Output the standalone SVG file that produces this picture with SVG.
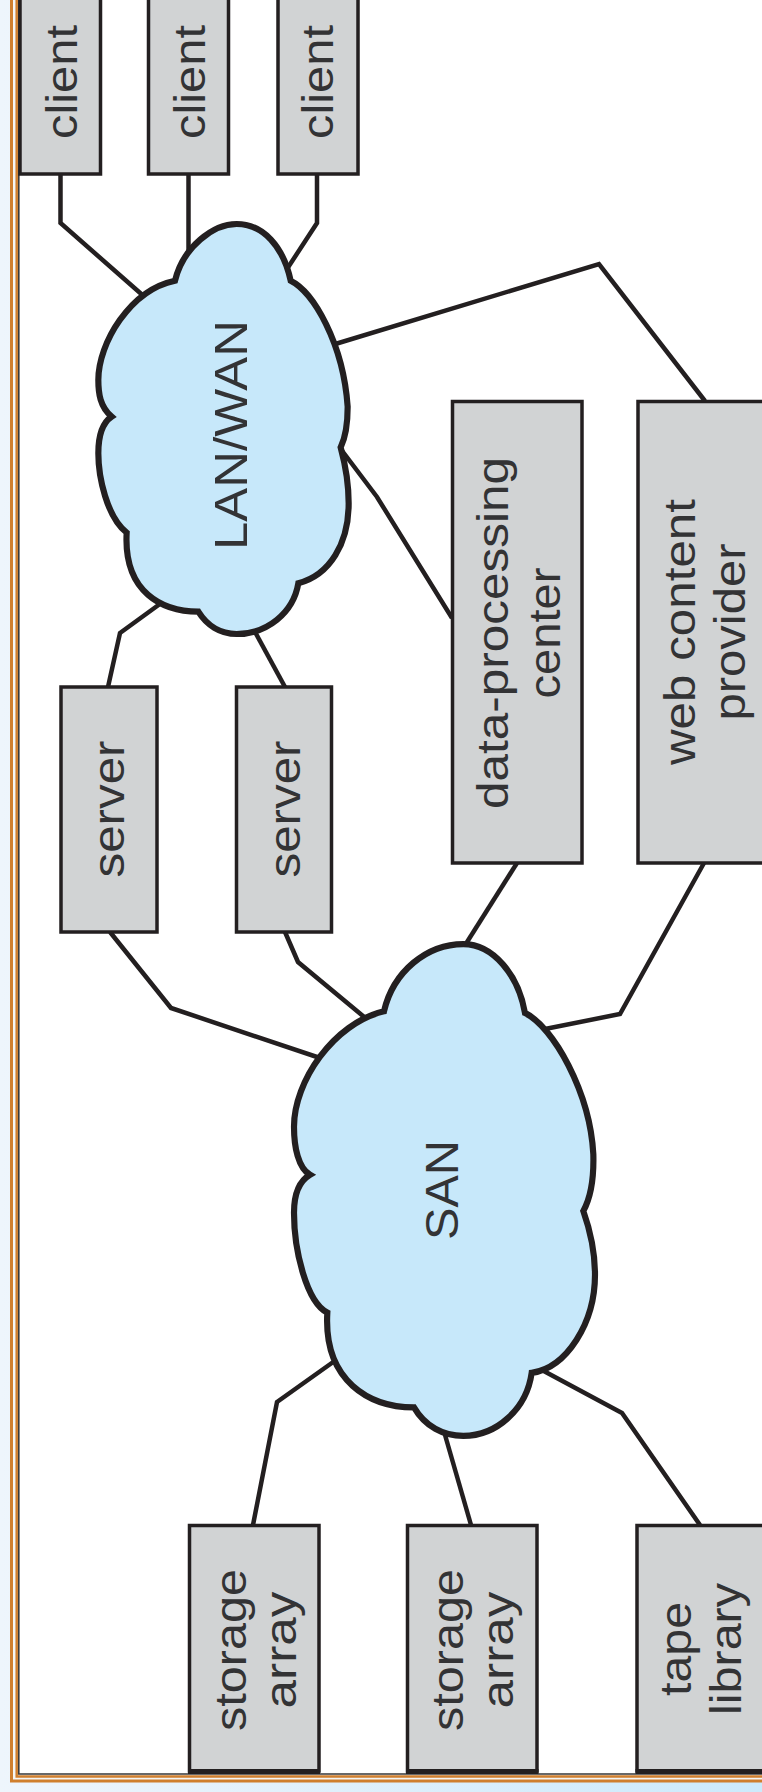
<svg xmlns="http://www.w3.org/2000/svg" width="762" height="1792" viewBox="0 0 762 1792">
<style>
.box{fill:#d1d3d4;stroke:#231f20;stroke-width:3.5}
.cloud{fill:#c7e8fa;stroke:#231f20;stroke-linejoin:miter;stroke-width:18.500}
.lbl{font-family:"Liberation Sans",Arial,sans-serif;font-size:44px;fill:#333335;text-anchor:middle}
.big{font-size:46px}
.edge{fill:none;stroke:#231f20;stroke-width:5}
#connectors polyline{fill:none;stroke:#231f20;stroke-width:4.5;stroke-linejoin:miter}
</style>
<defs><linearGradient id="bg" x1="0" y1="0" x2="1" y2="0"><stop offset="0" stop-color="#eef5fc"/><stop offset="1" stop-color="#cceafb"/></linearGradient></defs>
<rect id="background" width="762" height="1792" fill="url(#bg)"/>
<g id="frame">
<rect x="13" y="0" width="749" height="1780" fill="#f4f6f6"/>
<rect x="18" y="0" width="744" height="1773" fill="#fff"/>
<path d="M11.500 0V1781H762" fill="none" stroke="#cf7f2e" stroke-width="3"/>
<path d="M16.700 0V1776.500H762" fill="none" stroke="#cf7f2e" stroke-width="2.500"/>
<path d="M18.800 0V1774H762" fill="none" stroke="#3a3a3a" stroke-width="1.600"/>
</g>
<g id="connectors">
<polyline points="60.500,174 60.500,223 147,299"/>
<polyline points="188.500,174 188.500,250"/>
<polyline points="317,174 317,223 287,269"/>
<polyline points="332,345 599,264 705,401"/>
<polyline points="340,448 377,497 452,618"/>
<polyline points="108,687 120,633 164,601"/>
<polyline points="285,687 254,630"/>
<polyline points="110,932 171,1008 326,1060"/>
<polyline points="285,932 298,962 369,1021"/>
<polyline points="517,863 462,950"/>
<polyline points="704,863 620,1014 540,1030"/>
<polyline points="253,1525 277,1402 336,1360"/>
<polyline points="471,1525 443,1428"/>
<polyline points="700,1525 622,1413 540,1369"/>
</g>
<g id="lan-wan">
<path class="cloud" transform="translate(80 210) scale(.33333)" d="M632 212C700 245 790 400 803 590C803 640 795 685 782 712C795 760 806 830 806 880C806 1000 750 1095 655 1120C640 1210 560 1272 470 1272C420 1272 380 1245 355 1205C250 1205 130 1150 140 968C80 920 55 800 55 730C55 680 65 640 95 620C60 590 55 550 55 510C55 400 150 240 285 212C310 110 400 42 470 42C550 42 610 110 632 212Z"/>
<text class="lbl big" transform="translate(247 435) rotate(-90)" textLength="230" lengthAdjust="spacingAndGlyphs">LAN/WAN</text>
</g>
<g id="san">
<path class="cloud" transform="translate(270 920) scale(.33333 .3444)" d="M765 270C850 310 960 500 970 680C972 750 960 810 940 845C960 900 975 960 975 1030C975 1170 890 1300 785 1315C770 1420 680 1498 580 1498C520 1498 465 1470 432 1415C300 1415 160 1340 172 1140C110 1110 72 960 72 850C72 800 85 760 120 740C85 720 72 660 72 600C72 470 190 300 342 265C370 150 470 70 580 70C670 70 745 160 765 270Z"/>
<text class="lbl big" transform="translate(458 1190) rotate(-90)" textLength="100" lengthAdjust="spacingAndGlyphs">SAN</text>
</g>
<g id="client-1"><rect class="box" x="20" y="-10" width="80.500" height="184"/><text class="lbl" transform="translate(76.500 82) rotate(-90)" textLength="114" lengthAdjust="spacingAndGlyphs">client</text></g>
<g id="client-2"><rect class="box" x="148.500" y="-10" width="80" height="184"/><text class="lbl" transform="translate(205 82) rotate(-90)" textLength="114" lengthAdjust="spacingAndGlyphs">client</text></g>
<g id="client-3"><rect class="box" x="278" y="-10" width="80" height="184"/><text class="lbl" transform="translate(333 82) rotate(-90)" textLength="114" lengthAdjust="spacingAndGlyphs">client</text></g>
<g id="server-1"><rect class="box" x="61" y="687" width="96" height="245"/><text class="lbl" transform="translate(124 809) rotate(-90)" textLength="137" lengthAdjust="spacingAndGlyphs">server</text></g>
<g id="server-2"><rect class="box" x="236.500" y="687" width="95" height="245"/><text class="lbl" transform="translate(300 809) rotate(-90)" textLength="137" lengthAdjust="spacingAndGlyphs">server</text></g>
<g id="data-processing-center"><rect class="box" x="452.500" y="401.500" width="129.500" height="461.500"/><text class="lbl" transform="translate(508 633) rotate(-90)" textLength="352" lengthAdjust="spacingAndGlyphs">data-processing</text><text class="lbl" transform="translate(560 633) rotate(-90)" textLength="131" lengthAdjust="spacingAndGlyphs">center</text></g>
<g id="web-content-provider"><rect class="box" x="638" y="401.500" width="130" height="461.500"/><text class="lbl" transform="translate(695 632) rotate(-90)" textLength="266" lengthAdjust="spacingAndGlyphs">web content</text><text class="lbl" transform="translate(745 632) rotate(-90)" textLength="177" lengthAdjust="spacingAndGlyphs">provider</text></g>
<g id="storage-array-1"><rect class="box" x="189.500" y="1525.500" width="129.500" height="245.500"/><path class="edge" d="M188 1771.500H320"/><text class="lbl" transform="translate(246 1650) rotate(-90)" textLength="162" lengthAdjust="spacingAndGlyphs">storage</text><text class="lbl" transform="translate(296 1650) rotate(-90)" textLength="117" lengthAdjust="spacingAndGlyphs">array</text></g>
<g id="storage-array-2"><rect class="box" x="407.500" y="1525.500" width="129.500" height="245.500"/><path class="edge" d="M406 1771.500H538.500"/><text class="lbl" transform="translate(463 1650) rotate(-90)" textLength="162" lengthAdjust="spacingAndGlyphs">storage</text><text class="lbl" transform="translate(513 1650) rotate(-90)" textLength="117" lengthAdjust="spacingAndGlyphs">array</text></g>
<g id="tape-library"><rect class="box" x="637" y="1525.500" width="130" height="245.500"/><path class="edge" d="M635.500 1771.500H762"/><text class="lbl" transform="translate(691 1649) rotate(-90)" textLength="94" lengthAdjust="spacingAndGlyphs">tape</text><text class="lbl" transform="translate(741 1649) rotate(-90)" textLength="132" lengthAdjust="spacingAndGlyphs">library</text></g>
</svg>
